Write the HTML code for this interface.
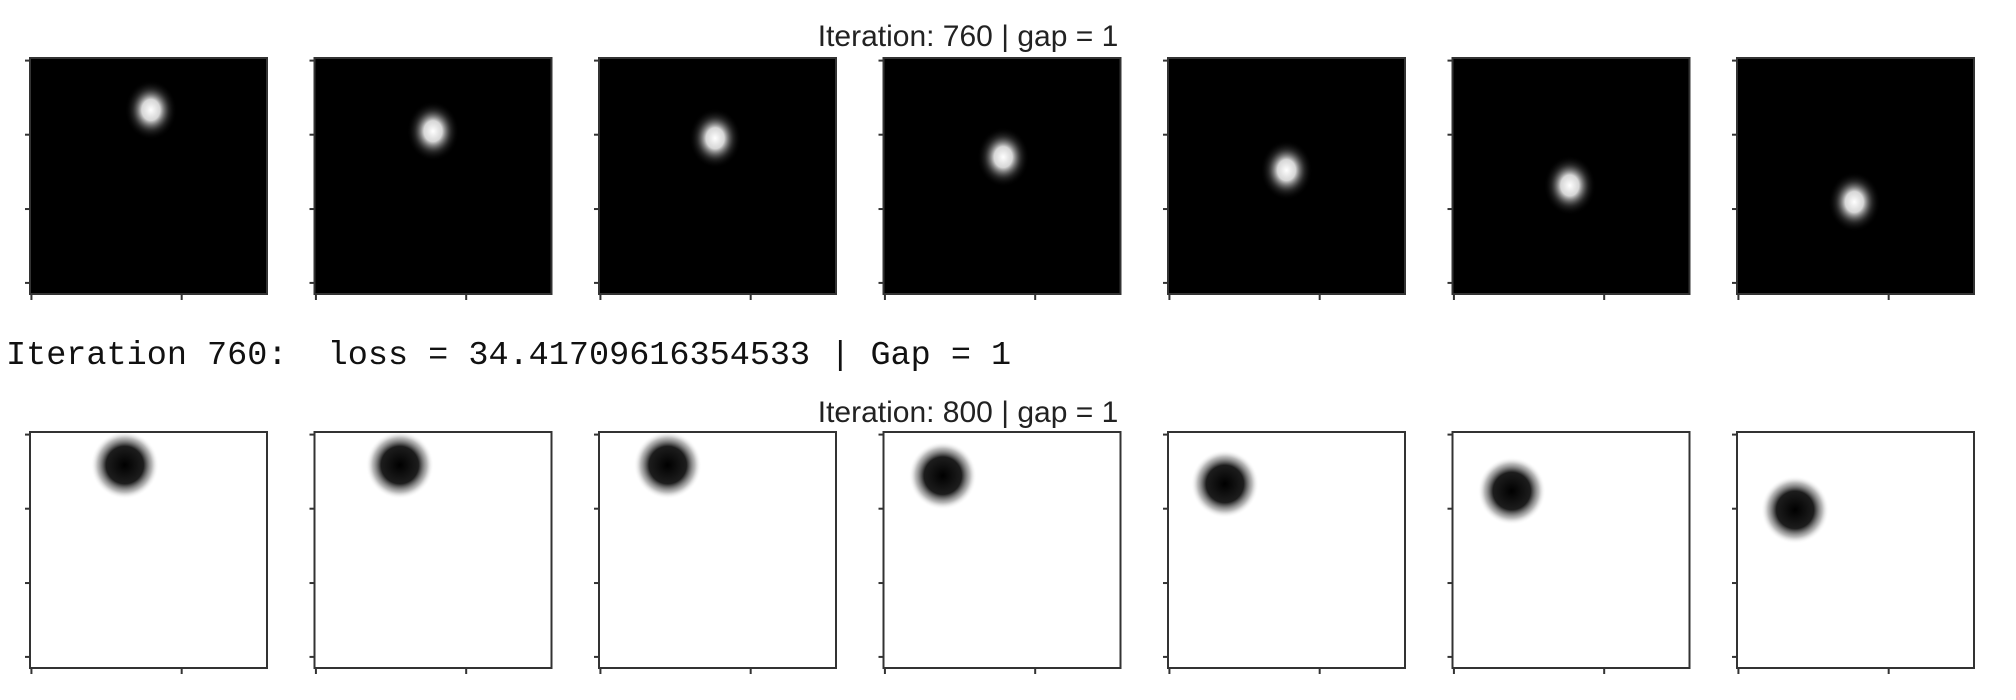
<!DOCTYPE html>
<html><head><meta charset="utf-8">
<style>
html,body{margin:0;padding:0;background:#fff;}
svg{display:block;}
</style></head>
<body>
<svg id="fig" width="2016" height="700" viewBox="0 0 2016 700" xmlns="http://www.w3.org/2000/svg">
<defs>
<radialGradient id="glow">
<stop offset="0" stop-color="#fff" stop-opacity="1"/>
<stop offset="0.35" stop-color="#eee" stop-opacity="0.9"/>
<stop offset="0.7" stop-color="#666" stop-opacity="0.35"/>
<stop offset="1" stop-color="#000" stop-opacity="0"/>
</radialGradient>
<radialGradient id="dark">
<stop offset="0" stop-color="#000" stop-opacity="1"/>
<stop offset="0.55" stop-color="#111" stop-opacity="0.95"/>
<stop offset="0.8" stop-color="#666" stop-opacity="0.45"/>
<stop offset="1" stop-color="#fff" stop-opacity="0"/>
</radialGradient>
</defs>
<text x="968" y="46" text-anchor="middle" font-family="Liberation Sans, sans-serif" font-size="30" fill="#222">Iteration: 760 | gap = 1</text>
<text x="6" y="364" font-family="Liberation Mono, monospace" font-size="33.5" fill="#111" xml:space="preserve">Iteration 760:  loss = 34.41709616354533 | Gap = 1</text>
<text x="968" y="422" text-anchor="middle" font-family="Liberation Sans, sans-serif" font-size="30" fill="#222">Iteration: 800 | gap = 1</text>
<g id="panels"></g>
</svg>
<script>
// blob centers as fractions of panel (x, y)
const topX = [0.51, 0.50, 0.49, 0.505, 0.50, 0.495, 0.495];
const topY = [0.22, 0.31, 0.34, 0.42, 0.475, 0.54, 0.61];
const botX = [0.40, 0.36, 0.29, 0.25, 0.24, 0.25, 0.245];
const botY = [0.14, 0.14, 0.14, 0.185, 0.22, 0.25, 0.33];
const yTickFrac = [0.011, 0.325, 0.64, 0.953];
const xTickFrac = [0.006, 0.64];

const NS = 'http://www.w3.org/2000/svg';
const g = document.getElementById('panels');
const x0 = 30, step = 284.5, W = 237, H = 236;
function mk(tag, attrs){const e=document.createElementNS(NS,tag);for(const k in attrs)e.setAttribute(k,attrs[k]);return e;}
function px(i,f){return x0+i*step+f*W;}
function drawRow(top, xs, ys, dark, rowName){
  for(let i=0;i<xs.length;i++){
    const left = x0+i*step;
    const bg = mk('rect',{x:left,y:top,width:W,height:H,fill:dark?'#000':'#fff'});
    
    
    g.appendChild(bg);
    const r = dark ? 26 : 34;
    const c = mk('ellipse',{cx:px(i,xs[i]),cy:top+ys[i]*H,rx:r,ry:dark?r*1.15:r,fill:dark?'url(#glow)':'url(#dark)'});
    
    
    g.appendChild(c);
    const fr = mk('rect',{x:left,y:top,width:W,height:H,fill:'none',stroke:'#333','stroke-width':2});
    
    
    g.appendChild(fr);
    yTickFrac.forEach(f=>{
      const t = mk('line',{x1:left-5,x2:left,y1:top+f*H,y2:top+f*H,stroke:'#333','stroke-width':2});
      
      
      g.appendChild(t);
    });
    xTickFrac.forEach(f=>{
      const t = mk('line',{x1:px(i,f),x2:px(i,f),y1:top+H,y2:top+H+6,stroke:'#333','stroke-width':2});
      
      
      g.appendChild(t);
    });
  }
}
drawRow(58, topX, topY, true, 'top');
drawRow(432, botX, botY, false, 'bottom');
</script>
</body></html>
